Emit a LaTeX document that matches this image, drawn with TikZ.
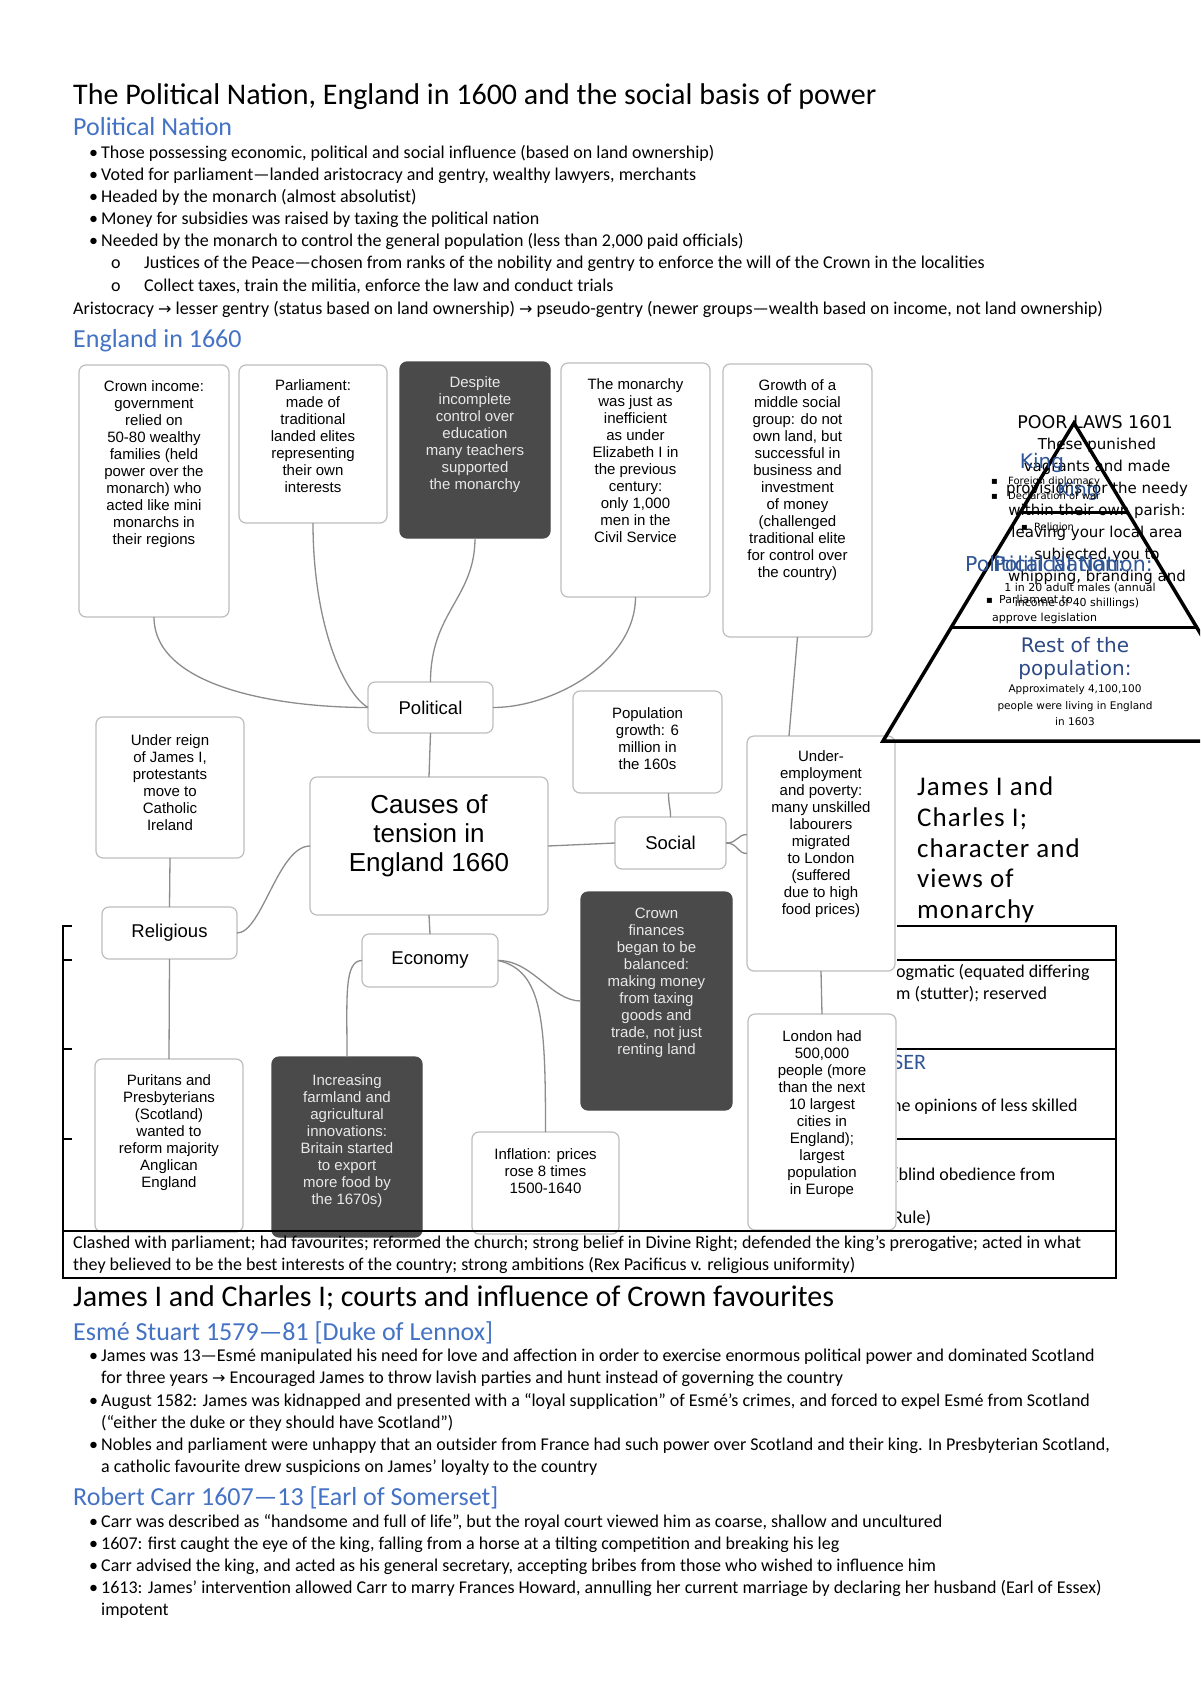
\documentclass[tikz,border=0pt]{standalone}
\usepackage{fontspec}
\setmainfont{Carlito}
\newfontfamily\boxfont{Liberation Sans}
\newfontfamily\dvs{DejaVu Sans}
\usetikzlibrary{calc}
\definecolor{hblue}{HTML}{4472C4}
\definecolor{pblue}{HTML}{2F5597}
\definecolor{nblue}{HTML}{2E4A86}
\definecolor{bgray}{HTML}{BDBDBD}
\definecolor{cgray}{HTML}{8C8C8C}
\definecolor{dfill}{HTML}{4A4A4A}
\definecolor{dtext}{HTML}{E8E8E8}
\begin{document}
\begin{tikzpicture}[x=1pt,y=-1pt,
  txt/.style={anchor=base west, inner sep=0pt, font=\fontsize{18}{22}\selectfont},
  ttl/.style={anchor=base west, inner sep=0pt, font=\fontsize{30}{36}\selectfont},
  hd/.style={anchor=base west, inner sep=0pt, text=hblue, font=\fontsize{26}{30}\selectfont},
  box/.style={draw=bgray, line width=1.2pt, rounded corners=7pt, fill=white, inner sep=0pt, outer sep=0pt, anchor=north west},
  dbox/.style={box, fill=dfill, draw=dfill},
  btxt/.style={anchor=north, inner sep=0pt, align=center, font=\boxfont\fontsize{15}{17}\selectfont},
  dtxt/.style={btxt, text=dtext},
  lbl/.style={box, font=\boxfont\fontsize{18.5}{22}\selectfont},
  conn/.style={draw=cgray, line width=1.3pt},
  tline/.style={line width=1.7pt},
  pyr/.style={line width=3.5pt, line join=miter},
  ptxt/.style={inner sep=0pt, font=\dvs\fontsize{15}{22}\selectfont},
  psmall/.style={inner sep=0pt, anchor=base west, font=\dvs\fontsize{10}{12}\selectfont},
  jc/.style={anchor=base west, inner sep=0pt, font=\fontsize{27}{31}\selectfont\addfontfeature{LetterSpace=4}},
  arr/.style={font=\dvs\fontsize{16}{18}\selectfont}
]
\useasboundingbox (0,0) rectangle (1200,1698);
\clip (0,0) rectangle (1200,1698);
\fill[white] (0,0) rectangle (1200,1698);

% ---------- top text ----------
\node[ttl] (title) at (73,104) {The Political Nation, England in 1600 and the social basis of power};
\node[hd] (h1) at (73,135) {Political Nation};
\node[txt] (b1d) at (89,158) {•};
\node[txt] (b1) at (101,158) {Those possessing economic, political and social influence (based on land ownership)};
\node[txt] (b2d) at (89,180) {•};
\node[txt] (b2) at (101,180) {Voted for parliament—landed aristocracy and gentry, wealthy lawyers, merchants};
\node[txt] (b3d) at (89,202) {•};
\node[txt] (b3) at (101,202) {Headed by the monarch (almost absolutist)};
\node[txt] (b4d) at (89,224) {•};
\node[txt] (b4) at (101,224) {Money for subsidies was raised by taxing the political nation};
\node[txt] (b5d) at (89,246) {•};
\node[txt] (b5) at (101,246) {Needed by the monarch to control the general population (less than 2,000 paid officials)};
\node[txt] (s1o) at (111,268) {o};
\node[txt] (s1) at (144,268) {Justices of the Peace—chosen from ranks of the nobility and gentry to enforce the will of the Crown in the localities};
\node[txt] (s2o) at (111,291) {o};
\node[txt] (s2) at (144,291) {Collect taxes, train the militia, enforce the law and conduct trials};
\node[txt] (aris) at (73,314) {Aristocracy {\dvs\fontsize{16}{18}\selectfont →} lesser gentry (status based on land ownership) {\dvs\fontsize{16}{18}\selectfont →} pseudo-gentry (newer groups—wealth based on income, not land ownership)};
\node[hd] (h2) at (73,347) {England in 1660};

% ---------- table (behind diagram) ----------
\draw[line width=2.2pt] (63,926) rectangle (1116,1278);
\draw[tline] (63,960) -- (1116,960);
\draw[tline] (63,1049) -- (1116,1049);
\draw[tline] (63,1139) -- (1116,1139);
\node[txt] (r2a) at (896,977) {ogmatic (equated differing};
\node[txt] (r2b) at (896,999) {m (stutter); reserved};
\node[txt, text=pblue, font=\fontsize{22}{26}\selectfont] (r3a) at (893,1069) {SER};
\node[txt] (r3b) at (892,1111) {he opinions of less skilled};
\node[txt] (r4a) at (893,1180) {(blind obedience from};
\node[txt] (r4b) at (893,1223) {Rule)};

% ---------- diagram ----------
\fill[white] (72,356) rectangle (897,1229);

\node[box, minimum width=150pt, minimum height=252pt] (crown) at (79,365) {};
\node[box, minimum width=148pt, minimum height=158pt] (parl) at (239,365) {};
\node[dbox, minimum width=150pt, minimum height=176pt] (despite) at (400,362) {};
\node[box, minimum width=149pt, minimum height=234pt] (monarchy) at (561,363) {};
\node[box, minimum width=149pt, minimum height=273pt] (growth) at (723,364) {};
\node[lbl, minimum width=125pt, minimum height=51pt] (political) at (368,682) {Political};
\node[box, minimum width=149pt, minimum height=102pt] (population) at (573,691) {};
\node[box, minimum width=148pt, minimum height=141pt] (underreign) at (96,717) {};
\node[box, minimum width=238pt, minimum height=138pt] (causes) at (310,777) {};
\node[lbl, minimum width=111pt, minimum height=52pt] (social) at (615,817) {Social};
\node[box, minimum width=148pt, minimum height=235pt] (underemp) at (747,736) {};
\node[lbl, minimum width=135pt, minimum height=52pt] (religious) at (102,907) {Religious};
\node[lbl, minimum width=136pt, minimum height=53pt] (economy) at (362,934) {Economy};
\node[dbox, minimum width=151pt, minimum height=218pt] (crownfin) at (581,892) {};
\node[box, minimum width=148pt, minimum height=173pt] (puritans) at (95,1059) {};
\node[dbox, minimum width=150pt, minimum height=180pt] (increasing) at (272,1057) {};
\node[box, minimum width=147pt, minimum height=102pt] (inflation) at (472,1132) {};
\node[box, minimum width=148pt, minimum height=216pt] (london) at (748,1014) {};

\node[btxt] (crownT) at (154,380) {Crown income:\\government\\relied on\\50-80 wealthy\\families (held\\power over the\\monarch) who\\acted like mini\\monarchs in\\their regions};
\node[btxt] (parlT) at (313,379) {Parliament:\\made of\\traditional\\landed elites\\representing\\their own\\interests};
\node[dtxt] (despiteT) at (475,376) {Despite\\incomplete\\control over\\education\\many teachers\\supported\\the monarchy};
\node[btxt] (monarchyT) at (635.5,378) {The monarchy\\was just as\\inefficient\\as under\\Elizabeth I in\\the previous\\century:\\only 1,000\\men in the\\Civil Service};
\node[btxt] (growthT) at (797.5,379) {Growth of a\\middle social\\group: do not\\own land, but\\successful in\\business and\\investment\\of money\\(challenged\\traditional elite\\for control over\\the country)};
\node[btxt] (populationT) at (647.5,707) {Population\\growth: 6\\million in\\the 160s};
\node[btxt] (underreignT) at (170,734) {Under reign\\of James I,\\protestants\\move to\\Catholic\\Ireland};
\node[btxt, font=\boxfont\fontsize{26}{29}\selectfont] (causesT) at (429,794) {Causes of\\tension in\\England 1660};
\node[btxt] (underempT) at (821,750) {Under-\\employment\\and poverty:\\many unskilled\\labourers\\migrated\\to London\\(suffered\\due to high\\food prices)};
\node[dtxt] (crownfinT) at (656.5,908) {Crown\\finances\\began to be\\balanced:\\making money\\from taxing\\goods and\\trade, not just\\renting land};
\node[btxt] (puritansT) at (169,1074) {Puritans and\\Presbyterians\\(Scotland)\\wanted to\\reform majority\\Anglican\\England};
\node[dtxt] (increasingT) at (347,1074) {Increasing\\farmland and\\agricultural\\innovations:\\Britain started\\to export\\more food by\\the 1670s)};
\node[btxt] (inflationT) at (545.5,1148) {Inflation: prices\\rose 8 times\\1500-1640};
\node[btxt] (londonT) at (822,1030) {London had\\500,000\\people (more\\than the next\\10 largest\\cities in\\England);\\largest\\population\\in Europe};

\draw[conn] (crown.south) .. controls +(0,70) and +(-90,0) .. (political.west);
\draw[conn] (parl.south) .. controls +(0,100) and +(-25,-15) .. (political.west);
\draw[conn] (despite.south) .. controls +(0,60) and +(0,-70) .. (political.north);
\draw[conn] (monarchy.south) .. controls +(0,65) and +(60,0) .. (political.east);
\draw[conn] (growth.south) -- ([xshift=-32pt]underemp.north);
\draw[conn] (political.south) -- (causes.north);
\draw[conn] (causes.west) .. controls +(-32,0) and +(25,0) .. (religious.east);
\draw[conn] (causes.west -| causes.east) -- (social.west);
\draw[conn] ([xshift=21pt]population.south) .. controls +(0,12) and +(0,-10) .. (social.north);
\draw[conn] (social.east) .. controls +(12,0) and +(-10,0) .. ([yshift=19pt]underemp.west);
\draw[conn] (social.east) .. controls +(12,0) and +(-10,0) .. (underemp.west);
\draw[conn] (underreign.south) -- (religious.north);
\draw[conn] (religious.south) -- (puritans.north);
\draw[conn] (causes.south) -- (economy.north);
\draw[conn] (economy.west) .. controls +(-18,0) and +(0,-60) .. (increasing.north);
\draw[conn] (economy.east) .. controls +(35,0) and +(-30,0) .. (crownfin.west);
\draw[conn] (economy.east) .. controls +(45,10) and +(0,-110) .. (inflation.north);
\draw[conn] (underemp.south) -- (london.north);

% ---------- last table row over diagram ----------
\draw[line width=2pt] (63,1231) -- (1116,1231);
\node[txt] (r5a) at (73,1248) {Clashed with parliament; had favourites; reformed the church; strong belief in Divine Right; defended the king’s prerogative; acted in what};
\node[txt] (r5b) at (73,1270) {they believed to be the best interests of the country; strong ambitions (Rex Pacificus v. religious uniformity)};

% ---------- pyramid ----------
\coordinate (apex) at (1074,423);
\coordinate (pbl) at (883,741);
\coordinate (pbr) at (1265,741);
\draw[pyr] (apex) -- (pbl) -- (pbr) -- cycle;
\draw[line width=3pt] ($(apex)!0.282!(pbl)$) -- ($(apex)!0.282!(pbr)$);
\draw[line width=3pt] ($(apex)!0.643!(pbl)$) -- ($(apex)!0.643!(pbr)$);

\node[ptxt, anchor=base, font=\dvs\fontsize{17.5}{22}\selectfont] (poor) at (1095,428) {POOR LAWS 1601};
\node[ptxt, anchor=north, align=center] (poorB) at (1097,438) {These punished\\vagrants and made\\provisions for the needy\\within their own parish:\\leaving your local area\\subjected you to\\whipping, branding and};
\node[ptxt, anchor=base, text=pblue, font=\dvs\fontsize{20}{24}\selectfont] (king1) at (1042,468) {King};
\node[ptxt, anchor=base, text=pblue, font=\dvs\fontsize{19}{24}\selectfont] (king2) at (1078,496) {King};
\node[psmall] (kb1) at (991,484) {▪};
\node[psmall] (kt1) at (1008,484) {Foreign diplomacy};
\node[psmall] (kb2) at (991,499) {▪};
\node[psmall] (kt2) at (1008,499) {Declaration of war};
\node[psmall] (kb3) at (1021,530) {▪};
\node[psmall] (kt3) at (1034,530) {Religion};
\node[ptxt, anchor=base west, text=pblue, font=\dvs\fontsize{20.5}{24}\selectfont] (pn1) at (965,571) {Political Nation:};
\node[ptxt, anchor=base west, text=pblue, font=\dvs\fontsize{20.5}{24}\selectfont] (pn2) at (993,571) {Political Nation:};
\node[psmall, anchor=base, font=\dvs\fontsize{11}{13}\selectfont] (pn3) at (1080,591) {1 in 20 adult males (annual};
\node[psmall, anchor=base, font=\dvs\fontsize{11}{13}\selectfont] (pn4) at (1077,606) {income of 40 shillings)};
\node[psmall] (pb1) at (986,603) {▪};
\node[psmall, font=\dvs\fontsize{11}{13}\selectfont] (pn5) at (999,603) {Parliament to};
\node[psmall, font=\dvs\fontsize{11}{13}\selectfont] (pn6) at (992,621) {approve legislation};
\node[ptxt, anchor=base, text=nblue, font=\dvs\fontsize{20}{24}\selectfont] (rest1) at (1075,652) {Rest of the};
\node[ptxt, anchor=base, text=nblue, font=\dvs\fontsize{20}{24}\selectfont] (rest2) at (1075,675) {population:};
\node[psmall, anchor=base, font=\dvs\fontsize{10.5}{13}\selectfont] (rest3) at (1075,692) {Approximately 4,100,100};
\node[psmall, anchor=base, font=\dvs\fontsize{10.5}{13}\selectfont] (rest4) at (1075,709) {people were living in England};
\node[psmall, anchor=base, font=\dvs\fontsize{10.5}{13}\selectfont] (rest5) at (1075,725) {in 1603};

% ---------- heading beside diagram ----------
\node[jc] (jc1) at (917,795) {James I and};
\node[jc] (jc2) at (917,826) {Charles I;};
\node[jc] (jc3) at (917,857) {character and};
\node[jc] (jc4) at (917,887) {views of};
\node[jc] (jc5) at (917,918) {monarchy};

% ---------- bottom section ----------
\node[ttl] (title2) at (73,1306) {James I and Charles I; courts and influence of Crown favourites};
\node[hd] (h3) at (73,1340) {Esmé Stuart 1579—81 [Duke of Lennox]};
\node[txt] (e1d) at (89,1361) {•};
\node[txt] (e1) at (101,1361) {James was 13—Esmé manipulated his need for love and affection in order to exercise enormous political power and dominated Scotland};
\node[txt] (e1b) at (101,1383) {for three years {\dvs\fontsize{16}{18}\selectfont →} Encouraged James to throw lavish parties and hunt instead of governing the country};
\node[txt] (e2d) at (89,1406) {•};
\node[txt] (e2) at (101,1406) {August 1582: James was kidnapped and presented with a “loyal supplication” of Esmé’s crimes, and forced to expel Esmé from Scotland};
\node[txt] (e2b) at (101,1428) {(“either the duke or they should have Scotland”)};
\node[txt] (e3d) at (89,1450) {•};
\node[txt] (e3) at (101,1450) {Nobles and parliament were unhappy that an outsider from France had such power over Scotland and their king. In Presbyterian Scotland,};
\node[txt] (e3b) at (101,1472) {a catholic favourite drew suspicions on James’ loyalty to the country};
\node[hd] (h4) at (73,1505) {Robert Carr 1607—13 [Earl of Somerset]};
\node[txt] (c1d) at (89,1527) {•};
\node[txt] (c1) at (101,1527) {Carr was described as “handsome and full of life”, but the royal court viewed him as coarse, shallow and uncultured};
\node[txt] (c2d) at (89,1549) {•};
\node[txt] (c2) at (101,1549) {1607: first caught the eye of the king, falling from a horse at a tilting competition and breaking his leg};
\node[txt] (c3d) at (89,1571) {•};
\node[txt] (c3) at (101,1571) {Carr advised the king, and acted as his general secretary, accepting bribes from those who wished to influence him};
\node[txt] (c4d) at (89,1593) {•};
\node[txt] (c4) at (101,1593) {1613: James’ intervention allowed Carr to marry Frances Howard, annulling her current marriage by declaring her husband (Earl of Essex)};
\node[txt] (c4b) at (101,1615) {impotent};
\end{tikzpicture}
\end{document}
